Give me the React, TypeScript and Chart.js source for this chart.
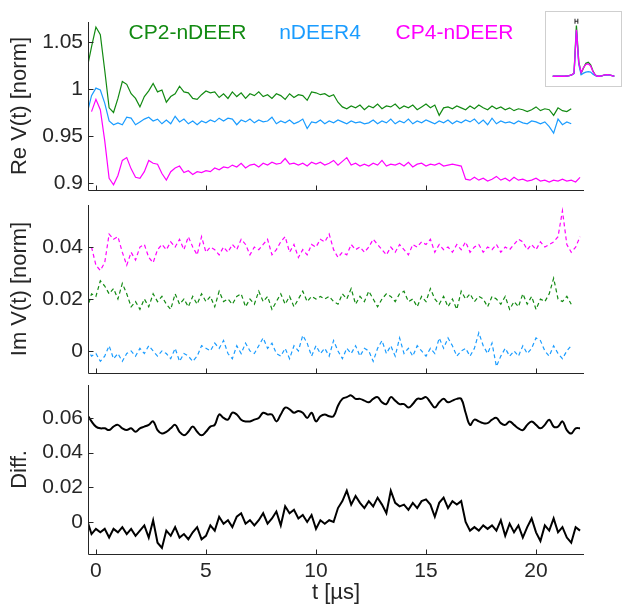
import React, { useEffect, useRef } from 'react';
import { Chart, registerables } from 'chart.js';

Chart.register(...registerables);

// ---------------- data ----------------
const seriesNames = ['CP2-nDEER', 'nDEER4', 'CP4-nDEER'];

const tUs = [
  -0.4, -0.2, 0, 0.2, 0.4, 0.6, 0.8, 1, 1.2, 1.4,
  1.6, 1.8, 2, 2.2, 2.4, 2.6, 2.8, 3, 3.2, 3.4,
  3.6, 3.8, 4, 4.2, 4.4, 4.6, 4.8, 5, 5.2, 5.4,
  5.6, 5.8, 6, 6.2, 6.4, 6.6, 6.8, 7, 7.2, 7.4,
  7.6, 7.8, 8, 8.2, 8.4, 8.6, 8.8, 9, 9.2, 9.4,
  9.6, 9.8, 10, 10.2, 10.4, 10.6, 10.8, 11, 11.2, 11.4,
  11.6, 11.8, 12, 12.2, 12.4, 12.6, 12.8, 13, 13.2, 13.4,
  13.6, 13.8, 14, 14.2, 14.4, 14.6, 14.8, 15, 15.2, 15.4,
  15.6, 15.8, 16, 16.2, 16.4, 16.6, 16.8, 17, 17.2, 17.4,
  17.6, 17.8, 18, 18.2, 18.4, 18.6, 18.8, 19, 19.2, 19.4,
  19.6, 19.8, 20, 20.2, 20.4, 20.6, 20.8, 21, 21.2, 21.4,
  21.6, 21.8, 22,
];

const reCP2 = [
  1.022, 1.045, 1.066, 1.058, 1.020, 0.980, 0.975, 0.990, 1.008, 1.005,
  0.995, 0.990, 0.981, 0.992, 0.998, 1.006, 0.997, 0.999, 0.986, 0.992,
  0.995, 1.003, 0.997, 0.996, 0.990, 0.989, 0.994, 0.998, 0.996, 0.997,
  0.991, 0.995, 0.990, 0.997, 0.992, 0.996, 0.990, 0.995, 0.993, 0.997,
  0.992, 0.994, 0.990, 0.995, 0.993, 0.989, 0.995, 0.991, 0.994, 0.993,
  0.988, 0.997, 0.996, 0.994, 0.995, 0.992, 0.994, 0.986, 0.981, 0.979,
  0.982, 0.980, 0.983, 0.978, 0.982, 0.980, 0.984, 0.979, 0.982, 0.981,
  0.984, 0.979, 0.982, 0.980, 0.983, 0.978, 0.981, 0.984, 0.980, 0.983,
  0.972, 0.980, 0.981, 0.979, 0.982, 0.980, 0.978, 0.982, 0.979, 0.983,
  0.980, 0.978, 0.982, 0.979, 0.981, 0.978, 0.980, 0.977, 0.979, 0.978,
  0.976, 0.978, 0.981, 0.977, 0.979, 0.978, 0.972, 0.980, 0.977, 0.976,
  0.979, null, null,
];

const reN4 = [
  0.974, 0.993, 1.001, 0.999, 0.985, 0.966, 0.962, 0.964, 0.962, 0.970,
  0.969, 0.962, 0.965, 0.968, 0.970, 0.966, 0.968, 0.963, 0.967, 0.963,
  0.971, 0.965, 0.968, 0.963, 0.966, 0.962, 0.966, 0.964, 0.967, 0.965,
  0.969, 0.966, 0.969, 0.968, 0.962, 0.967, 0.965, 0.968, 0.964, 0.967,
  0.965, 0.966, 0.970, 0.963, 0.966, 0.964, 0.967, 0.963, 0.965, 0.968,
  0.958, 0.965, 0.964, 0.967, 0.963, 0.966, 0.964, 0.967, 0.965, 0.963,
  0.966, 0.964, 0.965, 0.963, 0.964, 0.967, 0.963, 0.966, 0.964, 0.968,
  0.963, 0.966, 0.964, 0.968, 0.963, 0.966, 0.964, 0.967, 0.965, 0.963,
  0.966, 0.964, 0.967, 0.963, 0.966, 0.964, 0.967, 0.965, 0.968, 0.963,
  0.967, 0.962, 0.969, 0.963, 0.966, 0.964, 0.965, 0.963, 0.966, 0.964,
  0.963, 0.966, 0.965, 0.963, 0.965, 0.960, 0.953, 0.968, 0.962, 0.965,
  0.963, null, null,
];

const reCP4 = [
  null, 0.976, 0.989, 0.978, 0.945, 0.905, 0.898, 0.908, 0.924, 0.927,
  0.915, 0.906, 0.905, 0.912, 0.924, 0.921, 0.920, 0.910, 0.903, 0.912,
  0.916, 0.918, 0.911, 0.913, 0.909, 0.912, 0.911, 0.913, 0.912, 0.916,
  0.914, 0.917, 0.916, 0.919, 0.917, 0.921, 0.916, 0.919, 0.920, 0.917,
  0.921, 0.919, 0.922, 0.920, 0.921, 0.926, 0.920, 0.921, 0.919, 0.921,
  0.918, 0.922, 0.920, 0.922, 0.919, 0.921, 0.924, 0.919, 0.923, 0.927,
  0.919, 0.921, 0.918, 0.920, 0.918, 0.921, 0.919, 0.924, 0.918, 0.920,
  0.919, 0.921, 0.918, 0.922, 0.917, 0.920, 0.921, 0.918, 0.920, 0.919,
  0.921, 0.918, 0.919, 0.920, 0.919, 0.918, 0.904, 0.903, 0.906, 0.903,
  0.905, 0.902, 0.904, 0.907, 0.903, 0.905, 0.902, 0.906, 0.903, 0.904,
  0.902, 0.903, 0.905, 0.902, 0.903, 0.901, 0.903, 0.902, 0.904, 0.902,
  0.903, 0.901, 0.906,
];

const imCP4 = [
  null, 0.040, 0.033, 0.031, 0.034, 0.045, 0.043, 0.044, 0.038, 0.033,
  0.038, 0.035, 0.040, 0.041, 0.036, 0.034, 0.039, 0.041, 0.039, 0.042,
  0.040, 0.043, 0.039, 0.044, 0.040, 0.037, 0.044, 0.038, 0.040, 0.039,
  0.037, 0.040, 0.038, 0.041, 0.039, 0.043, 0.041, 0.037, 0.040, 0.039,
  0.041, 0.043, 0.037, 0.039, 0.042, 0.044, 0.038, 0.041, 0.036, 0.039,
  0.037, 0.041, 0.040, 0.043, 0.042, 0.045, 0.039, 0.036, 0.038, 0.037,
  0.041, 0.039, 0.040, 0.038, 0.040, 0.043, 0.041, 0.039, 0.037, 0.040,
  0.038, 0.041, 0.039, 0.037, 0.041, 0.040, 0.042, 0.041, 0.043, 0.038,
  0.041, 0.039, 0.040, 0.038, 0.041, 0.039, 0.042, 0.038, 0.040, 0.041,
  0.038, 0.040, 0.039, 0.041, 0.038, 0.040, 0.039, 0.041, 0.043, 0.042,
  0.039, 0.041, 0.039, 0.042, 0.040, 0.041, 0.042, 0.044, 0.054, 0.041,
  0.038, 0.040, 0.044,
];

const imCP2 = [
  0.016, 0.022, 0.021, 0.027, 0.025, 0.022, 0.024, 0.020, 0.026, 0.022,
  0.017, 0.019, 0.016, 0.020, 0.017, 0.022, 0.019, 0.021, 0.018, 0.016,
  0.022, 0.018, 0.020, 0.017, 0.021, 0.018, 0.022, 0.019, 0.021, 0.017,
  0.023, 0.019, 0.020, 0.018, 0.021, 0.022, 0.017, 0.020, 0.018, 0.023,
  0.019, 0.021, 0.016, 0.019, 0.022, 0.018, 0.021, 0.017, 0.020, 0.023,
  0.019, 0.021, 0.020, 0.021, 0.020, 0.021, 0.019, 0.018, 0.022, 0.020,
  0.024, 0.018, 0.021, 0.019, 0.023, 0.020, 0.017, 0.020, 0.022, 0.021,
  0.019, 0.022, 0.023, 0.019, 0.020, 0.017, 0.021, 0.019, 0.024, 0.020,
  0.018, 0.021, 0.017, 0.020, 0.016, 0.023, 0.020, 0.022, 0.019, 0.021,
  0.020, 0.017, 0.021, 0.020, 0.018, 0.021, 0.016, 0.019, 0.017, 0.022,
  0.018, 0.021, 0.016, 0.020, 0.019, 0.022, 0.028, 0.020, 0.019, 0.021,
  0.018, null, null,
];

const imN4 = [
  0.001, -0.002, -0.001, -0.004, -0.002, 0.002, -0.003, -0.001, -0.004, -0.001,
  0.000, -0.002, 0.001, -0.001, 0.002, 0.000, -0.002, 0.000, -0.001, -0.003,
  0.001, -0.004, -0.001, -0.002, -0.004, -0.002, 0.002, 0.001, 0.000, 0.003,
  0.001, 0.004, -0.001, -0.003, 0.002, -0.001, 0.003, 0.000, -0.001, 0.002,
  0.005, 0.001, 0.003, -0.001, -0.002, 0.001, -0.003, 0.002, 0.000, 0.006,
  0.003, -0.002, 0.002, -0.001, 0.001, -0.002, 0.004, 0.000, -0.003, 0.001,
  -0.001, 0.002, -0.002, 0.001, 0.000, -0.004, 0.001, 0.004, -0.001, 0.002,
  -0.002, 0.005, -0.001, 0.001, -0.002, 0.002, 0.000, -0.002, 0.001, -0.001,
  0.005, 0.001, 0.005, 0.002, -0.002, 0.000, 0.001, -0.002, 0.001, 0.007,
  0.002, -0.001, 0.003, -0.006, -0.002, 0.001, -0.002, 0.000, -0.002, 0.002,
  -0.001, 0.001, 0.005, 0.004, 0.000, -0.002, 0.002, -0.001, -0.003, 0.000,
  0.002, null, null,
];

const diffUpper = [
  0.062, 0.058, 0.055, 0.054, 0.054, 0.053, 0.055, 0.056, 0.054, 0.053,
  0.054, 0.052, 0.054, 0.055, 0.056, 0.058, 0.053, 0.051, 0.052, 0.054,
  0.056, 0.052, 0.050, 0.052, 0.055, 0.052, 0.050, 0.052, 0.055, 0.056,
  0.062, 0.060, 0.059, 0.063, 0.062, 0.059, 0.058, 0.058, 0.059, 0.060,
  0.063, 0.062, 0.062, 0.058, 0.062, 0.066, 0.065, 0.063, 0.064, 0.063,
  0.060, 0.063, 0.058, 0.061, 0.062, 0.061, 0.061, 0.067, 0.071, 0.072,
  0.073, 0.071, 0.071, 0.070, 0.069, 0.071, 0.072, 0.069, 0.068, 0.072,
  0.070, 0.068, 0.068, 0.066, 0.068, 0.071, 0.071, 0.072, 0.069, 0.066,
  0.069, 0.071, 0.069, 0.070, 0.071, 0.071, 0.063, 0.056, 0.059, 0.058,
  0.057, 0.057, 0.059, 0.060, 0.057, 0.056, 0.058, 0.056, 0.054, 0.053,
  0.056, 0.058, 0.056, 0.054, 0.056, 0.059, 0.055, 0.055, 0.058, 0.053,
  0.051, 0.054, 0.054,
];

const diffLower = [
  0.001, -0.007, -0.004, -0.006, -0.004, -0.009, -0.004, -0.006, -0.003, -0.007,
  -0.004, -0.008, -0.005, -0.002, -0.009, 0.001, -0.012, -0.015, -0.005, -0.008,
  -0.003, -0.009, -0.007, -0.010, -0.006, -0.003, -0.010, -0.008, -0.002, -0.005,
  0.003, -0.001, 0.001, -0.003, 0.003, 0.005, -0.001, 0.001, -0.002, 0.001,
  0.005, -0.001, 0.002, 0.006, -0.002, 0.009, 0.005, 0.007, 0.002, 0.004,
  0.000, 0.004, -0.004, 0.001, -0.001, 0.001, 0.000, 0.008, 0.012, 0.018,
  0.010, 0.015, 0.011, 0.008, 0.012, 0.009, 0.014, 0.010, 0.005, 0.018,
  0.011, 0.009, 0.010, 0.007, 0.011, 0.008, 0.012, 0.013, 0.010, 0.003,
  0.011, 0.014, 0.008, 0.012, 0.010, 0.012, 0.000, -0.005, -0.003, -0.005,
  -0.002, -0.004, -0.002, -0.005, 0.001, -0.008, -0.001, -0.006, -0.002, -0.009,
  -0.003, 0.002, -0.006, -0.011, -0.002, -0.005, 0.002, -0.006, -0.003, -0.009,
  -0.012, -0.003, -0.005,
];

// inset: distance distributions (r in nm)
const rNm = [
  1.5, 1.75, 2, 2.25, 2.5, 2.75, 3, 3.25, 3.5, 3.75,
  4, 4.25, 4.5, 4.75, 5, 5.25, 5.5, 5.75, 6, 6.25,
  6.5, 6.75, 7, 7.25, 7.5, 7.75, 8,
];
const distCP2 = [
  0.02, 0.02, 0.02, 0.02, 0.02, 0.02, 0.025, 0.03, 0.045, 0.08,
  1.0, 0.30, 0.08, 0.18, 0.27, 0.29, 0.24, 0.12, 0.04, 0.02,
  0.02, 0.03, 0.045, 0.05, 0.045, 0.03, 0.02,
];
const distN4 = [
  0.02, 0.02, 0.02, 0.02, 0.02, 0.02, 0.025, 0.03, 0.045, 0.07,
  0.90, 0.25, 0.05, 0.08, 0.10, 0.11, 0.10, 0.06, 0.03, 0.02,
  0.02, 0.03, 0.04, 0.045, 0.04, 0.03, 0.02,
];
const distCP4 = [
  0.02, 0.02, 0.02, 0.02, 0.02, 0.02, 0.025, 0.03, 0.045, 0.08,
  0.92, 0.28, 0.09, 0.19, 0.25, 0.26, 0.22, 0.11, 0.04, 0.02,
  0.02, 0.03, 0.045, 0.05, 0.045, 0.03, 0.02,
];
const rErrorBar = [3.85, 4.15];
const errorBarLevel = [1.085, 1.085];

const xTicks = [0, 5, 10, 15, 20];
const reTicks = [0.9, 0.95, 1, 1.05];
const imTicks = [0, 0.02, 0.04];
const diffTicks = [0, 0.02, 0.04, 0.06];

// ---------------- style ----------------
const FONT = "'Liberation Sans', Arial, Helvetica, sans-serif";
const INK = '#262626';
const GREEN = '#128a12';
const BLUE = '#1a9cff';
const MAGENTA = '#ff00ff';
const seriesColors = [GREEN, BLUE, MAGENTA];

const matlabAxes = {
  id: 'matlabAxes',
  afterDraw(chart: any) {
    const { ctx, chartArea: a, scales } = chart;
    ctx.save();
    ctx.strokeStyle = INK;
    ctx.lineWidth = 1;
    ctx.beginPath();
    const lx = Math.round(a.left) + 0.5;
    const by = Math.round(a.bottom) + 0.5;
    ctx.moveTo(lx, a.top);
    ctx.lineTo(lx, by);
    ctx.lineTo(a.right, by);
    scales.x.ticks.forEach((tk: any) => {
      const px = Math.round(scales.x.getPixelForValue(tk.value)) + 0.5;
      ctx.moveTo(px, by);
      ctx.lineTo(px, by - 5);
    });
    scales.y.ticks.forEach((tk: any) => {
      const py = Math.round(scales.y.getPixelForValue(tk.value)) + 0.5;
      ctx.moveTo(lx, py);
      ctx.lineTo(lx + 5, py);
    });
    ctx.stroke();
    ctx.restore();
  },
};

const legendText = {
  id: 'legendText',
  afterDraw(chart: any) {
    const ctx = chart.ctx;
    const centers = [187.5, 320, 454.5];
    ctx.save();
    ctx.font = `21px ${FONT}`;
    ctx.textAlign = 'center';
    ctx.textBaseline = 'middle';
    seriesNames.forEach((n, i) => {
      ctx.fillStyle = seriesColors[i];
      ctx.fillText(n, centers[i], 33);
    });
    ctx.restore();
  },
};

const fmt = (v: any) => String(Math.round(Number(v) * 1000) / 1000);

function yScale(min: number, max: number, ticks: number[], title: string) {
  return {
    type: 'linear',
    position: 'left',
    min,
    max,
    afterBuildTicks: (s: any) => {
      s.ticks = ticks.map((v) => ({ value: v }));
    },
    afterFit: (s: any) => {
      s.width = 88;
      s.paddingTop = 0;
      s.paddingBottom = 0;
    },
    grid: { display: false, drawTicks: false },
    border: { display: false },
    ticks: { color: INK, font: { family: FONT, size: 21 }, padding: 5, callback: fmt, autoSkip: false },
    title: { display: true, text: title, color: INK, font: { family: FONT, size: 22 }, padding: { top: 7, bottom: 0 } },
  };
}

function xScale(height: number, showLabels: boolean) {
  return {
    type: 'linear',
    position: 'bottom',
    min: -0.36,
    max: 22.18,
    afterBuildTicks: (s: any) => {
      s.ticks = xTicks.map((v) => ({ value: v }));
    },
    afterFit: (s: any) => {
      s.height = height;
      s.paddingLeft = 0;
      s.paddingRight = 0;
    },
    grid: { display: false, drawTicks: false },
    border: { display: false },
    ticks: { display: showLabels, color: INK, font: { family: FONT, size: 21 }, padding: 5, maxRotation: 0, autoSkip: false, callback: fmt },
    title: { display: showLabels, text: 't [µs]', color: INK, font: { family: FONT, size: 22 }, padding: { top: 0, bottom: -1 } },
  };
}

function series(values: (number | null)[], color: string, extra: any = {}) {
  return {
    data: tUs.map((x, i) => ({ x, y: values[i] })),
    borderColor: color,
    backgroundColor: color,
    borderWidth: 1.2,
    pointRadius: 0,
    fill: false,
    tension: 0,
    spanGaps: false,
    ...extra,
  };
}

function baseOptions(padTop: number, scales: any) {
  return {
    responsive: false,
    maintainAspectRatio: false,
    animation: false,
    events: [],
    layout: { padding: { top: padTop, right: 38, bottom: 0, left: 0 } },
    plugins: { legend: { display: false }, tooltip: { enabled: false } },
    scales,
  };
}

const panels = [
  {
    top: 0,
    height: 195,
    build: () => ({
      type: 'line',
      data: {
        datasets: [series(reCP2, GREEN), series(reN4, BLUE), series(reCP4, MAGENTA)],
      },
      options: baseOptions(22, { x: xScale(5, false), y: yScale(0.8925, 1.0714, reTicks, 'Re V(t) [norm]') }),
      plugins: [matlabAxes, legendText],
    }),
  },
  {
    top: 195,
    height: 183,
    build: () => ({
      type: 'line',
      data: {
        datasets: [
          series(imCP2, GREEN, { borderDash: [4, 3] }),
          series(imN4, BLUE, { borderDash: [4, 3] }),
          series(imCP4, MAGENTA, { borderDash: [4, 3] }),
        ],
      },
      options: baseOptions(10, { x: xScale(5, false), y: yScale(-0.0085, 0.0562, imTicks, 'Im V(t) [norm]') }),
      plugins: [matlabAxes],
    }),
  },
  {
    top: 378,
    height: 227,
    build: () => ({
      type: 'line',
      data: {
        datasets: [
          series(diffUpper, '#000000', { borderWidth: 2, tension: 0.4 }),
          series(diffLower, '#000000', { borderWidth: 2 }),
        ],
      },
      options: baseOptions(7, { x: xScale(51, true), y: yScale(-0.0185, 0.079, diffTicks, 'Diff.') }),
      plugins: [matlabAxes],
    }),
  },
];

function ChartCanvas({ left, top, width, height, build }: any) {
  const ref = useRef<HTMLCanvasElement>(null);
  useEffect(() => {
    const chart = new Chart(ref.current as HTMLCanvasElement, build());
    return () => chart.destroy();
  }, []);
  return (
    <canvas
      ref={ref}
      width={width}
      height={height}
      style={{ position: 'absolute', left, top, width, height, display: 'block' }}
    />
  );
}

const buildInset = () => {
  const ds = (vals: number[], color: string) => ({
    data: rNm.map((x, i) => ({ x, y: vals[i] })),
    borderColor: color,
    backgroundColor: color,
    borderWidth: 1.3,
    pointRadius: 0,
    tension: 0,
    fill: false,
  });
  return {
    type: 'line',
    data: {
      datasets: [
        {
          data: rErrorBar.map((x, i) => ({ x, y: errorBarLevel[i] })),
          borderColor: '#222222',
          backgroundColor: '#222222',
          borderWidth: 1,
          pointStyle: 'line',
          rotation: 90,
          pointRadius: 2.5,
          pointBorderColor: '#222222',
          pointBorderWidth: 1,
        },
        ds(distCP4, MAGENTA),
        ds(distN4, BLUE),
        ds(distCP2, GREEN),
      ],
    },
    options: {
      responsive: false,
      maintainAspectRatio: false,
      animation: false,
      events: [],
      layout: { padding: 0 },
      plugins: { legend: { display: false }, tooltip: { enabled: false } },
      scales: {
        x: { type: 'linear', display: false, min: 1.317, max: 8.18 },
        y: { type: 'linear', display: false, min: -0.072, max: 1.167 },
      },
    },
  };
};

export default function App() {
  return (
    <div
      style={{
        position: 'absolute',
        left: 0,
        top: 0,
        width: 622,
        height: 605,
        background: '#ffffff',
        overflow: 'hidden',
      }}
    >
      {panels.map((p, i) => (
        <ChartCanvas key={i} left={0} top={p.top} width={622} height={p.height} build={p.build} />
      ))}
      <div
        style={{
          position: 'absolute',
          left: 545,
          top: 11,
          width: 77,
          height: 76,
          boxSizing: 'border-box',
          border: '1px solid #cfcfcf',
          background: '#ffffff',
        }}
      >
        <ChartCanvas left={0} top={0} width={75} height={74} build={buildInset} />
      </div>
    </div>
  );
}
